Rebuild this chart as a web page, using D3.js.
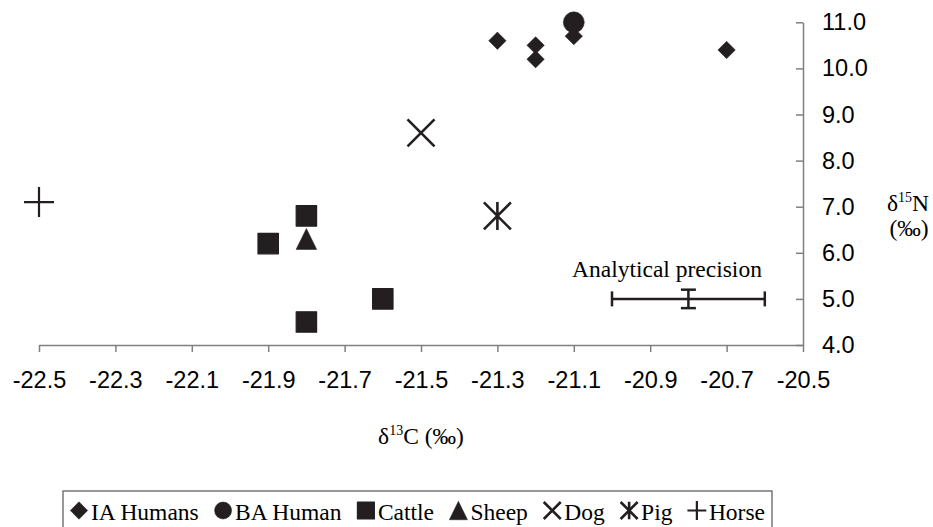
<!DOCTYPE html>
<html>
<head>
<meta charset="utf-8">
<script src="https://cdn.jsdelivr.net/npm/d3@7"></script>
<style>
  body { margin: 0; background: #fff; }
  svg { display: block; }
</style>
</head>
<body>
<svg id="chart" width="933" height="527"></svg>
<script>
// DATA (d13C, d15N in permil)
const ia_c = [-21.3, -21.2, -21.2, -21.1, -20.7];
const ia_n = [10.6, 10.5, 10.2, 10.7, 10.4];
const ba_c = [-21.1];
const ba_n = [11.0];
const cattle_c = [-21.8, -21.9, -21.6, -21.8];
const cattle_n = [6.8, 6.2, 5.0, 4.5];
const sheep_c = [-21.8];
const sheep_n = [6.3];
const dog_c = [-21.5];
const dog_n = [8.6];
const pig_c = [-21.3];
const pig_n = [6.8];
const horse_c = [-22.5];
const horse_n = [7.1];
// analytical precision: centre and +/- error
const prec_c = -20.8, prec_n = 5.0, prec_err_c = 0.2, prec_err_n = 0.2;

const x_ticks = [-22.5, -22.3, -22.1, -21.9, -21.7, -21.5, -21.3, -21.1, -20.9, -20.7, -20.5];
const y_ticks = [4, 5, 6, 7, 8, 9, 10, 11];
const legend_labels = ["IA Humans", "BA Human", "Cattle", "Sheep", "Dog", "Pig", "Horse"];

const ink = "#231f20";
const sans = "'Liberation Sans', Arial, sans-serif";
const serif = "'Liberation Serif', 'Times New Roman', serif";

const svg = d3.select("#chart");

const x = d3.scaleLinear().domain([-22.5, -20.5]).range([39, 803]);
const y = d3.scaleLinear().domain([4, 11]).range([345, 22.3]);

// marker shapes, path strings around 0,0 (s = scale factor)
const shapes = {
  diamond: s => { const h = 8.7*s; return `M0,${-h}L${h},0L0,${h}L${-h},0Z`; },
  circle: s => d3.symbol(d3.symbolCircle, Math.PI*Math.pow(10.5*s, 2))(),
  square: s => { const h = 10.2*s; return `M${-h},${-h}H${h}V${h}H${-h}Z`; },
  triangle: s => { const w = 10.3*s, h = 10.5*s; return `M0,${-h}L${w},${h}L${-w},${h}Z`; },
  cross: s => { const h = 13.5*s; return `M${-h},${-h}L${h},${h}M${h},${-h}L${-h},${h}`; },
  star: s => { const h = 13.5*s, v = 14*s; return `M${-h},${-h}L${h},${h}M${h},${-h}L${-h},${h}M0,${-v}L0,${v}`; },
  plus: s => { const h = 15*s; return `M${-h},0H${h}M0,${-h}V${h}`; }
};
const filled = { diamond: true, circle: true, square: true, triangle: true, cross: false, star: false, plus: false };
const stroke_w = { cross: 2.6, star: 2.6, plus: 2.2 };

const series = [
  { shape: "square", c: cattle_c, n: cattle_n },
  { shape: "triangle", c: sheep_c, n: sheep_n },
  { shape: "cross", c: dog_c, n: dog_n },
  { shape: "star", c: pig_c, n: pig_n },
  { shape: "plus", c: horse_c, n: horse_n },
  { shape: "circle", c: ba_c, n: ba_n },
  { shape: "diamond", c: ia_c, n: ia_n }
];

function draw_marker(g, shape, s) {
  g.append("path")
   .attr("d", shapes[shape](s))
   .attr("fill", filled[shape] ? ink : "none")
   .attr("stroke", ink)
   .attr("stroke-width", filled[shape] ? (shape == "square" ? 1.2 : 0.5) : stroke_w[shape])
   .attr("stroke-linejoin", "round")
}

// AXES
const x_axis = svg.append("g")
                  .attr("transform", "translate(0," + y(4) + ")")
                  .call(d3.axisBottom(x).tickValues(x_ticks).tickSize(7).tickSizeOuter(0).tickFormat(d3.format(".1f")))
x_axis.select(".domain").attr("stroke", "#808080").attr("stroke-width", 1.5)
x_axis.selectAll(".tick line").attr("stroke", "#808080").attr("stroke-width", 1.5)
x_axis.selectAll(".tick text")
      .attr("y", 26)
      .attr("dy", "0.71em")
      .attr("font-family", sans)
      .attr("font-size", 23.5)
      .attr("fill", "#000")
      .text(d => d3.format(".1f")(d).replace("−", "-"))

const y_axis = svg.append("g")
                  .attr("transform", "translate(" + x(-20.5) + ",0)")
                  .call(d3.axisLeft(y).tickValues(y_ticks).tickSize(7).tickSizeOuter(0).tickFormat(d3.format(".1f")))
y_axis.select(".domain").attr("stroke", "#808080").attr("stroke-width", 1.5)
y_axis.selectAll(".tick line").attr("stroke", "#808080").attr("stroke-width", 1.5)
y_axis.selectAll(".tick text")
      .attr("x", 19)
      .attr("text-anchor", "start")
      .attr("font-family", sans)
      .attr("font-size", 23.5)
      .attr("fill", "#000")

// axis titles
const x_title = svg.append("text")
                   .attr("x", (x(-22.5) + x(-20.5))/2)
                   .attr("y", 444)
                   .attr("text-anchor", "middle")
                   .attr("font-family", serif)
                   .attr("font-size", 23.5)
x_title.append("tspan").text("δ")
x_title.append("tspan").attr("font-size", 14).attr("dy", -9).text("13")
x_title.append("tspan").attr("dy", 9).text("C (‰)")

const y_title = svg.append("text")
                   .attr("x", 908)
                   .attr("y", 211)
                   .attr("text-anchor", "middle")
                   .attr("font-family", serif)
                   .attr("font-size", 23.5)
y_title.append("tspan").text("δ")
y_title.append("tspan").attr("font-size", 14).attr("dy", -9).text("15")
y_title.append("tspan").attr("dy", 9).text("N")
svg.append("text")
   .attr("x", 909)
   .attr("y", 236)
   .attr("text-anchor", "middle")
   .attr("font-family", serif)
   .attr("font-size", 23.5)
   .text("(‰)")

// POINTS
series.forEach(function(sr) {
  sr.c.forEach(function(c, i) {
    const g = svg.append("g").attr("transform", "translate(" + x(c) + "," + y(sr.n[i]) + ")")
    draw_marker(g, sr.shape, 1)
  })
})

// ANALYTICAL PRECISION
const prec = svg.append("g")
                .attr("stroke", ink)
                .attr("stroke-width", 2.5)
prec.append("line")
    .attr("x1", x(prec_c - prec_err_c)).attr("x2", x(prec_c + prec_err_c))
    .attr("y1", y(prec_n)).attr("y2", y(prec_n))
prec.append("line")
    .attr("x1", x(prec_c)).attr("x2", x(prec_c))
    .attr("y1", y(prec_n - prec_err_n)).attr("y2", y(prec_n + prec_err_n))
;[prec_c - prec_err_c, prec_c + prec_err_c].forEach(function(c) {
  prec.append("line")
      .attr("x1", x(c)).attr("x2", x(c))
      .attr("y1", y(prec_n) - 7.5).attr("y2", y(prec_n) + 7.5)
})
;[prec_n - prec_err_n, prec_n + prec_err_n].forEach(function(n) {
  prec.append("line")
      .attr("x1", x(prec_c) - 7.5).attr("x2", x(prec_c) + 7.5)
      .attr("y1", y(n)).attr("y2", y(n))
})
svg.append("text")
   .attr("x", x(prec_c - prec_err_c) - 40)
   .attr("y", 277)
   .attr("font-family", serif)
   .attr("font-size", 23.5)
   .text("Analytical precision")

// LEGEND
const legend_shapes = ["diamond", "circle", "square", "triangle", "cross", "star", "plus"];
const legend_scale = { diamond: 1, circle: 0.81, square: 0.83, triangle: 0.88, cross: 0.63, star: 0.63, plus: 0.63 };
const box_left = 63, box_right = 772, box_top = 491;
svg.append("rect")
   .attr("x", box_left)
   .attr("y", box_top)
   .attr("width", box_right - box_left)
   .attr("height", 60)
   .attr("fill", "none")
   .attr("stroke", "#555")
   .attr("stroke-width", 1.2)

const legend = svg.append("g")
const items = legend_labels.map(function(label, i) {
  const g = legend.append("g")
  const t = g.append("text")
             .attr("x", 21)
             .attr("y", 520)
             .attr("font-family", serif)
             .attr("font-size", 23.5)
             .text(label)
  return { g: g, w: 21 + t.node().getComputedTextLength(), shape: legend_shapes[i] }
})
const pad = 7
const total = d3.sum(items, d => d.w)
const gap = (box_right - box_left - 2*pad - total) / (items.length - 1)
let cur = box_left + pad
items.forEach(function(it) {
  it.g.attr("transform", "translate(" + cur + ",0)")
  const m = it.g.append("g").attr("transform", "translate(9,510.5)")
  draw_marker(m, it.shape, legend_scale[it.shape])
  cur += it.w + gap
})
</script>
</body>
</html>
